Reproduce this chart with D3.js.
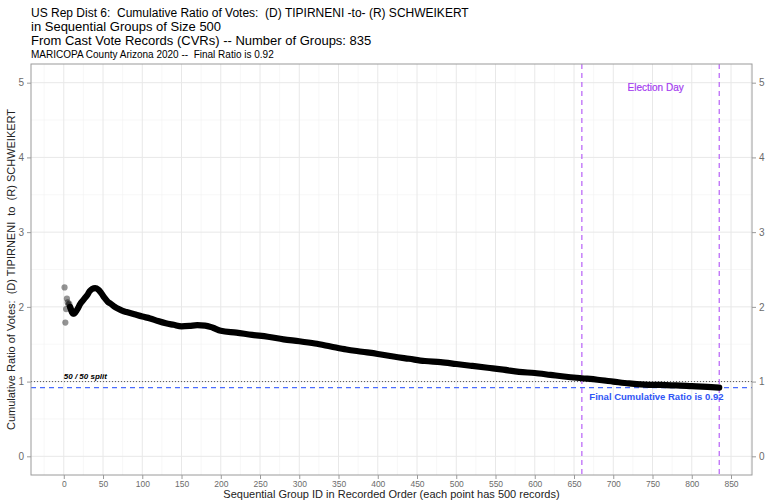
<!DOCTYPE html>
<html>
<head>
<meta charset="utf-8">
<script src="https://cdn.jsdelivr.net/npm/d3@7"></script>
<style>
  body { margin: 0; background: #fff; }
  svg text { font-family: "Liberation Sans", Arial, Helvetica, sans-serif; white-space: pre; }
</style>
</head>
<body>
<svg width="767" height="501"></svg>
<script>
// cumulative D/R ratio (group id -> ratio)
var groupIds = [1, 2, 3, 4, 5, 6, 7, 8, 9, 10, 11, 12, 13, 15, 18, 21, 24, 27, 30, 33, 36, 40, 44, 48,
  52, 56, 60, 65, 70, 75, 80, 90, 100, 110, 120, 130, 140, 150, 160, 170, 180, 190, 200,
  220, 240, 260, 280, 300, 320, 340, 360, 380, 400, 420, 440, 460, 480, 500, 520, 540,
  560, 580, 600, 620, 640, 660, 680, 700, 720, 740, 760, 780, 800, 820, 835];
var ratios = [2.26, 1.79, 1.97, 2.11, 2.06, 2.03, 2.04, 2.0, 1.97, 1.94, 1.92, 1.91, 1.91, 1.93, 1.98, 2.04, 2.08, 2.12, 2.16, 2.21, 2.24, 2.25, 2.23, 2.18,
  2.12, 2.07, 2.04, 2.0, 1.97, 1.945, 1.93, 1.9, 1.87, 1.845, 1.81, 1.78, 1.76, 1.74, 1.745, 1.755, 1.75, 1.72, 1.68,
  1.655, 1.625, 1.6, 1.565, 1.54, 1.51, 1.47, 1.43, 1.4, 1.37, 1.335, 1.305, 1.275, 1.26, 1.235, 1.21, 1.185,
  1.16, 1.13, 1.115, 1.09, 1.065, 1.045, 1.025, 1.0, 0.975, 0.96, 0.955, 0.95, 0.94, 0.93, 0.92];

var xTicks = d3.range(0, 851, 50);
var yTicks = [0, 1, 2, 3, 4, 5];
var nGroups = 835;
var finalRatio = 0.92;
var electionDayGroup = 660;

var titleLines = [
  "US Rep Dist 6:  Cumulative Ratio of Votes:  (D) TIPIRNENI -to- (R) SCHWEIKERT",
  "in Sequential Groups of Size 500",
  "From Cast Vote Records (CVRs) -- Number of Groups: 835"
];
var subtitle = "MARICOPA County Arizona 2020 --  Final Ratio is 0.92";

var svg = d3.select("svg");
// panel box (note: "top" is reserved on window, so use pTop etc.)
var pLeft = 31, pRight = 752, pTop = 64, pBottom = 475;

var x = d3.scaleLinear().domain([-41.75, 876.75]).range([pLeft, pRight]);
var y = d3.scaleLinear().domain([-0.25, 5.25]).range([pBottom, pTop]);

svg.append("rect").attr("width", 767).attr("height", 501).attr("fill", "#fff");

// grid
var grid = svg.append("g");
grid.selectAll(".xmin").data(d3.range(-25, 876, 50)).enter().append("line")
    .attr("x1", d => x(d)).attr("x2", d => x(d)).attr("y1", pTop).attr("y2", pBottom)
    .attr("stroke", "#f2f2f2").attr("stroke-width", 0.6);
grid.selectAll(".ymin").data([0.5, 1.5, 2.5, 3.5, 4.5]).enter().append("line")
    .attr("x1", pLeft).attr("x2", pRight).attr("y1", d => y(d)).attr("y2", d => y(d))
    .attr("stroke", "#f2f2f2").attr("stroke-width", 0.6);
grid.selectAll(".xmaj").data(xTicks).enter().append("line")
    .attr("x1", d => x(d)).attr("x2", d => x(d)).attr("y1", pTop).attr("y2", pBottom)
    .attr("stroke", "#e8e8e8").attr("stroke-width", 1);
grid.selectAll(".ymaj").data(yTicks).enter().append("line")
    .attr("x1", pLeft).attr("x2", pRight).attr("y1", d => y(d)).attr("y2", d => y(d))
    .attr("stroke", "#e8e8e8").attr("stroke-width", 1);

// reference lines
svg.append("line")
    .attr("x1", pLeft).attr("x2", pRight).attr("y1", y(1)).attr("y2", y(1))
    .attr("stroke", "#555").attr("stroke-width", 1).attr("stroke-dasharray", "1,2");
svg.append("line")
    .attr("x1", pLeft).attr("x2", pRight).attr("y1", y(finalRatio)).attr("y2", y(finalRatio))
    .attr("stroke", "#4a6cff").attr("stroke-width", 1.2).attr("stroke-dasharray", "5,4");
[electionDayGroup, nGroups].forEach(function(g) {
  svg.append("line")
      .attr("x1", x(g)).attr("x2", x(g)).attr("y1", pTop).attr("y2", pBottom)
      .attr("stroke", "#b760f7").attr("stroke-width", 1.2).attr("stroke-dasharray", "5,4");
});

// data
var pts = groupIds.map(function(g, i) { return {g: g, r: ratios[i]}; });
var line = d3.line().x(d => x(d.g)).y(d => y(d.r)).curve(d3.curveMonotoneX);
svg.append("path")
    .datum(pts.filter(d => d.g >= 8))
    .attr("d", line)
    .attr("fill", "none").attr("stroke", "#000").attr("stroke-width", 6.2)
    .attr("stroke-linecap", "round").attr("stroke-linejoin", "round");
svg.selectAll(".pt").data(pts.filter(d => d.g < 13)).enter().append("circle")
    .attr("cx", d => x(d.g)).attr("cy", d => y(d.r)).attr("r", 3.1)
    .attr("fill", "#000").attr("fill-opacity", 0.42);

// annotations
svg.append("text").attr("x", x(0)).attr("y", y(1) - 3)
    .attr("font-size", 8).attr("font-weight", "bold").attr("font-style", "italic")
    .text("50 / 50 split");
svg.append("text").attr("x", x(755)).attr("y", y(finalRatio) + 12).attr("text-anchor", "middle")
    .attr("font-size", 9.5).attr("font-weight", "bold").attr("fill", "#2f55f5")
    .text("Final Cumulative Ratio is 0.92");
svg.append("text").attr("x", x(754)).attr("y", 91).attr("text-anchor", "middle")
    .attr("font-size", 10).attr("fill", "#a43cf0").attr("stroke", "#a43cf0").attr("stroke-width", 0.2)
    .text("Election Day");

// panel border
svg.append("rect").attr("x", pLeft).attr("y", pTop).attr("width", pRight - pLeft).attr("height", pBottom - pTop)
    .attr("fill", "none").attr("stroke", "#9a9a9a").attr("stroke-width", 1);

// axes
var xAxis = svg.append("g").attr("transform", "translate(0," + pBottom + ")")
    .call(d3.axisBottom(x).tickValues(xTicks).tickSize(4).tickPadding(2));
var yAxisL = svg.append("g").attr("transform", "translate(" + pLeft + ",0)")
    .call(d3.axisLeft(y).tickValues(yTicks).tickFormat(d3.format("d")).tickSize(4).tickPadding(3));
var yAxisR = svg.append("g").attr("transform", "translate(" + pRight + ",0)")
    .call(d3.axisRight(y).tickValues(yTicks).tickFormat(d3.format("d")).tickSize(4).tickPadding(3));
[xAxis, yAxisL, yAxisR].forEach(function(a) {
  a.select(".domain").remove();
  a.selectAll(".tick line").attr("stroke", "#9a9a9a");
  a.selectAll(".tick text").attr("fill", "#6b6b6b").attr("font-size", 8.5)
      .attr("font-family", "Liberation Sans, Arial, sans-serif");
});
yAxisL.selectAll(".tick text").attr("font-size", 10);
yAxisR.selectAll(".tick text").attr("font-size", 10);

svg.append("text").attr("x", (pLeft + pRight) / 2).attr("y", 498).attr("text-anchor", "middle")
    .attr("font-size", 11).attr("fill", "#222")
    .text("Sequential Group ID in Recorded Order (each point has 500 records)");
svg.append("text").attr("transform", "translate(15," + ((pTop + pBottom) / 2) + ") rotate(-90)")
    .attr("text-anchor", "middle").attr("font-size", 11).attr("fill", "#222")
    .text("Cumulative Ratio of Votes:  (D) TIPIRNENI  to  (R) SCHWEIKERT");

// titles
svg.selectAll(".title").data(titleLines).enter().append("text")
    .attr("x", pLeft).attr("y", (d, i) => 17 + i * 14)
    .attr("font-size", (d, i) => i === 0 ? 12 : 13).attr("fill", "#000")
    .text(d => d);
svg.append("text").attr("x", pLeft).attr("y", 58).attr("font-size", 10).attr("fill", "#000")
    .text(subtitle);
</script>
</body>
</html>
